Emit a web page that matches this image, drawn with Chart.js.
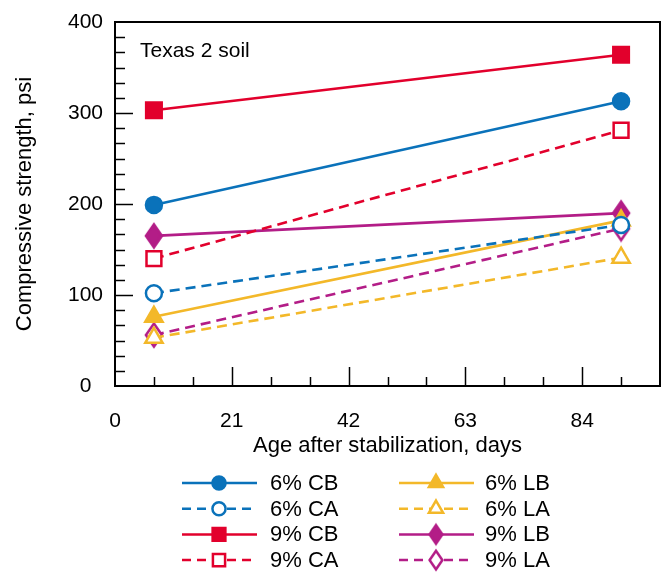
<!DOCTYPE html>
<html>
<head>
<meta charset="utf-8">
<script src="https://cdn.jsdelivr.net/npm/chart.js@4.4.0/dist/chart.umd.min.js"></script>
<style>
  body { margin: 0; background: #fff; }
  #wrap { width: 665px; height: 572px; }
</style>
</head>
<body>
<div id="wrap"><canvas id="myChart" width="665" height="572"></canvas></div>
<script>
// age after stabilization, days
const days = [7, 91]
// compressive strength, psi
const cb6 = [199, 313]
const ca6 = [102, 177]
const cb9 = [303, 364]
const ca9 = [140, 281]
const lb6 = [76, 182]
const la6 = [53, 141]
const lb9 = [165, 190]
const la9 = [56, 173]
const names = ['6% CB', '6% CA', '9% CB', '9% CA', '6% LB', '6% LA', '9% LB', '9% LA']
const xTicks = [0, 21, 42, 63, 84]
const yTicks = [0, 100, 200, 300, 400]

const FONT = "'Liberation Sans', Arial, Helvetica, sans-serif"
const blue = '#0a72ba'
const red = '#e2002c'
const yellow = '#f3b829'
const purple = '#b31d87'

const diamond = (color, filled, k) => {
    const c = document.createElement('canvas')
    c.width = 22
    c.height = 28
    const g = c.getContext('2d')
    g.translate(11, 14)
    g.beginPath()
    g.moveTo(0, -11.5 * k)
    g.lineTo(8 * k, 0)
    g.lineTo(0, 11.5 * k)
    g.lineTo(-8 * k, 0)
    g.closePath()
    g.fillStyle = filled ? color : '#fff'
    g.fill()
    g.lineWidth = 2.5
    g.strokeStyle = color
    g.stroke()
    return c
}

const makeSet = (label, ys, color, style, radius, filled, dashed) => ({
    label: label,
    data: ys.map((y, i) => ({ x: days[i], y: y })),
    borderColor: color,
    backgroundColor: color,
    borderWidth: 2.6,
    borderDash: dashed ? [10, 6] : [],
    pointStyle: style,
    pointRadius: radius,
    pointHoverRadius: radius,
    pointBorderWidth: 2.5,
    pointBorderColor: color,
    pointBackgroundColor: filled ? color : '#fff',
    tension: 0
})

const datasets = [
    makeSet(names[0], cb6, blue, 'circle', 8, true, false),
    makeSet(names[1], ca6, blue, 'circle', 8, false, true),
    makeSet(names[2], cb9, red, 'rect', 11, true, false),
    makeSet(names[3], ca9, red, 'rect', 10.5, false, true),
    makeSet(names[4], lb6, yellow, 'triangle', 10, true, false),
    makeSet(names[5], la6, yellow, 'triangle', 10, false, true),
    makeSet(names[6], lb9, purple, diamond(purple, true, 1), 11, true, false),
    makeSet(names[7], la9, purple, diamond(purple, false, 1), 11, false, true)
]
const legendDiamonds = [diamond(purple, true, 0.8), diamond(purple, false, 0.8)]

// frame, inward minor/major ticks, inner label, legend with line samples
const decor = {
    id: 'decor',
    afterDraw(chart) {
        const ctx = chart.ctx
        const a = chart.chartArea
        const xs = chart.scales.x
        const ys = chart.scales.y
        ctx.save()
        ctx.strokeStyle = '#000'
        ctx.lineWidth = 1.5
        for (let v = 7; v < 98; v += 7) {
            const px = Math.round(xs.getPixelForValue(v)) + 0.5
            const len = v % 21 === 0 ? 19 : 9
            ctx.beginPath()
            ctx.moveTo(px, a.bottom)
            ctx.lineTo(px, a.bottom - len)
            ctx.stroke()
        }
        for (let i = 1; i < 24; i++) {
            const py = Math.round(ys.getPixelForValue(i * 100 / 6)) + 0.5
            const len = i % 6 === 0 ? 18 : 10
            ctx.beginPath()
            ctx.moveTo(a.left, py)
            ctx.lineTo(a.left + len, py)
            ctx.stroke()
        }
        ctx.lineWidth = 2
        ctx.strokeRect(a.left, a.top, a.right - a.left, a.bottom - a.top)

        ctx.fillStyle = '#000'
        ctx.font = '21px ' + FONT
        ctx.textAlign = 'left'
        ctx.textBaseline = 'alphabetic'
        ctx.fillText('Texas 2 soil', 140, 57)

        chart.data.datasets.forEach((ds, i) => {
            const col = Math.floor(i / 4)
            const row = i % 4
            const x0 = col ? 399 : 182
            const y = 483 + row * 25.7
            ctx.strokeStyle = ds.borderColor
            ctx.lineWidth = 2.5
            ctx.setLineDash(ds.borderDash.length ? [9, 6] : [])
            ctx.beginPath()
            ctx.moveTo(x0, y)
            ctx.lineTo(x0 + 75, y)
            ctx.stroke()
            ctx.setLineDash([])
            ctx.fillStyle = ds.pointBackgroundColor
            ctx.strokeStyle = ds.pointBorderColor
            const style = i >= 6 ? legendDiamonds[i - 6] : ds.pointStyle
            Chart.helpers.drawPoint(ctx, {
                pointStyle: style,
                radius: ds.pointRadius * 0.82,
                rotation: 0,
                borderWidth: 2.5
            }, x0 + 37, y)
            ctx.fillStyle = '#000'
            ctx.font = '22px ' + FONT
            ctx.textBaseline = 'middle'
            ctx.fillText(ds.label, col ? 485 : 270, y + 1)
        })
        ctx.restore()
    }
}

let ctx = document.getElementById('myChart').getContext('2d')
let myChart = new Chart(ctx, {
    type: 'line',
    data: { datasets: datasets },
    options: {
        responsive: false,
        animation: false,
        layout: { autoPadding: false, padding: { top: 22, right: 5, bottom: 106, left: 0 } },
        plugins: {
            legend: { display: false },
            tooltip: { enabled: false }
        },
        scales: {
            x: {
                type: 'linear',
                min: 0,
                max: 98,
                afterBuildTicks: (s) => { s.ticks = xTicks.map(v => ({ value: v })) },
                afterFit: (s) => { s.height = 80; s.paddingRight = 0; s.paddingLeft = 0 },
                grid: { display: false, drawTicks: false },
                border: { display: false },
                ticks: { color: '#000', padding: 23, maxRotation: 0, autoSkip: false, font: { family: FONT, size: 21 } },
                title: {
                    display: true,
                    text: 'Age after stabilization, days',
                    color: '#000',
                    font: { family: FONT, size: 22 },
                    padding: { top: 0, bottom: 7 }
                }
            },
            y: {
                min: 0,
                max: 400,
                afterBuildTicks: (s) => { s.ticks = yTicks.map(v => ({ value: v })) },
                afterFit: (s) => { s.width = 115; s.paddingTop = 0; s.paddingBottom = 0 },
                grid: { display: false, drawTicks: false },
                border: { display: false },
                ticks: { color: '#000', padding: 12, crossAlign: 'center', autoSkip: false, font: { family: FONT, size: 21 } },
                title: {
                    display: true,
                    text: 'Compressive strength, psi',
                    color: '#000',
                    font: { family: FONT, size: 22 },
                    padding: { top: 12, bottom: 0 }
                }
            }
        }
    },
    plugins: [decor]
})
</script>
</body>
</html>
